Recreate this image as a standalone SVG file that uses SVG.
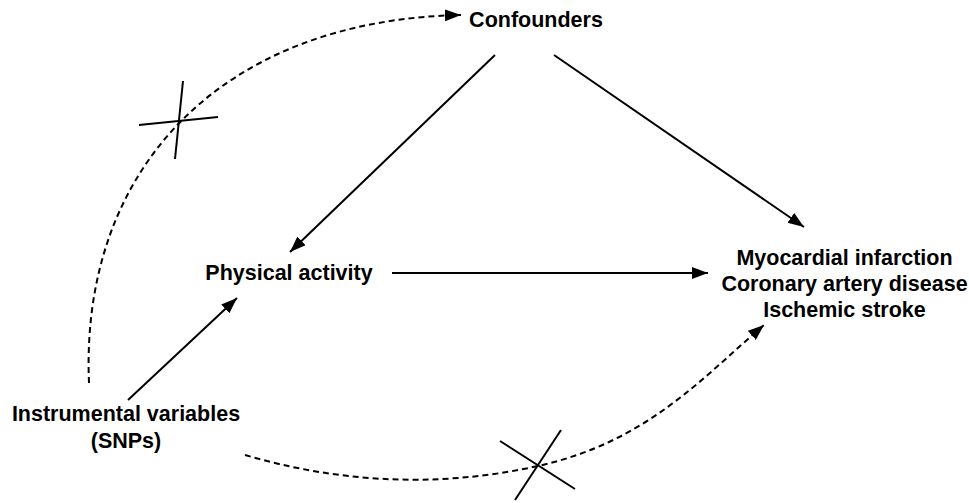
<svg xmlns="http://www.w3.org/2000/svg" width="969" height="503" viewBox="0 0 969 503">
<style>
text{font-family:"Liberation Sans",Arial,sans-serif;font-weight:bold;font-size:21.5px;fill:#000;text-anchor:middle}
.s{stroke:#000;stroke-width:2;fill:none}
.d{stroke:#000;stroke-width:2;fill:none;stroke-dasharray:6 4}
.x{stroke:#000;stroke-width:2;fill:none}
</style>
<defs>
<marker id="ah" markerUnits="userSpaceOnUse" markerWidth="18" markerHeight="14" refX="16" refY="6" orient="auto">
<path d="M0,0 L16,6 L0,12 z" fill="#000"/>
</marker>
</defs>
<rect width="969" height="503" fill="#fff"/>
<g id="connectors">
<line class="s" x1="495" y1="55" x2="290" y2="252" marker-end="url(#ah)"/>
<line class="s" x1="554" y1="55" x2="804" y2="227" marker-end="url(#ah)"/>
<line class="s" x1="392" y1="273" x2="708" y2="273" marker-end="url(#ah)"/>
<line class="s" x1="128" y1="400" x2="237" y2="298" marker-end="url(#ah)"/>
<path class="d" d="M89,383 C80,170 220,20 461,15" marker-end="url(#ah)"/>
<path class="d" d="M245,455 C330,480 430,490 538,466 S700,380 764,325" marker-end="url(#ah)"/>
<g id="cross1">
<line class="x" x1="139" y1="125" x2="218" y2="117"/>
<line class="x" x1="183" y1="81" x2="175" y2="159"/>
</g>
<g id="cross2">
<line class="x" x1="500" y1="441" x2="575" y2="489"/>
<line class="x" x1="561" y1="430" x2="515" y2="500"/>
</g>
</g>
<g id="confounders"><text x="536" y="27">Confounders</text></g>
<g id="physical-activity"><text x="289" y="280">Physical activity</text></g>
<g id="outcomes">
<text x="844.5" y="265">Myocardial infarction</text>
<text x="844.5" y="291">Coronary artery disease</text>
<text x="844.5" y="317">Ischemic stroke</text>
</g>
<g id="instruments">
<text x="126" y="421">Instrumental variables</text>
<text x="126" y="448">(SNPs)</text>
</g>
</svg>
